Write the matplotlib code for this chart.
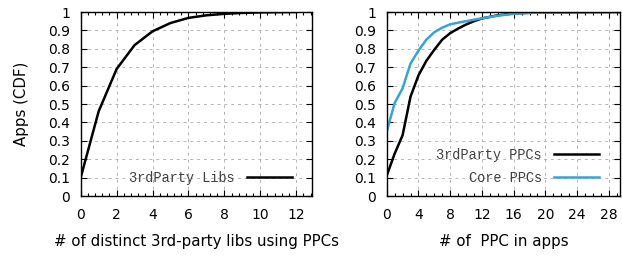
import matplotlib
matplotlib.use("Agg")
import matplotlib.pyplot as plt
from matplotlib.ticker import MultipleLocator, FixedLocator

# Data
libs_x = [0, 1, 2, 3, 4, 5, 6, 7, 8, 9, 10, 11, 12]
libs_cdf = [0.10, 0.46, 0.69, 0.82, 0.895, 0.94, 0.968, 0.982, 0.99, 0.995, 0.998, 0.999, 1.0]

ppc_x = [0, 1, 2, 3, 4, 5, 6, 7, 8, 9, 10, 11, 12, 14, 16, 18, 20, 24, 30]
third_ppc = [0.11, 0.23, 0.33, 0.54, 0.655, 0.735, 0.795, 0.85, 0.885, 0.91, 0.932, 0.95, 0.965, 0.982, 0.992, 0.996, 0.998, 0.999, 1.0]
core_ppc = [0.35, 0.505, 0.585, 0.72, 0.79, 0.85, 0.89, 0.915, 0.933, 0.942, 0.95, 0.958, 0.966, 0.98, 0.99, 0.995, 0.997, 0.999, 1.0]

y_ticks = [0, 0.1, 0.2, 0.3, 0.4, 0.5, 0.6, 0.7, 0.8, 0.9, 1]
y_labels = ["0", "0.1", "0.2", "0.3", "0.4", "0.5", "0.6", "0.7", "0.8", "0.9", "1"]

plt.rcParams['font.family'] = ['DejaVu Sans']
FS = 10
BLUE = '#3aa3d6'

fig = plt.figure(figsize=(6.22, 2.56), dpi=100)
W, H = 622, 256
def add_ax(l, r, t, b):
    return fig.add_axes([l / W, 1 - b / H, (r - l) / W, (b - t) / H])

ax1 = add_ax(80.7, 312.3, 12, 196)
ax2 = add_ax(386.7, 620, 12, 196)

def style(ax, xmax, major, minor):
    ax.set_ylim(0, 1)
    ax.set_xlim(0, xmax)
    ax.xaxis.set_major_locator(MultipleLocator(major))
    ax.xaxis.set_minor_locator(MultipleLocator(minor))
    ax.yaxis.set_major_locator(FixedLocator(y_ticks))
    ax.set_yticklabels(y_labels)
    ax.tick_params(which='both', direction='in', top=True, right=True, labelsize=FS, width=0.8)
    ax.tick_params(which='major', length=4)
    ax.tick_params(axis='y', which='major', pad=7.5)
    ax.tick_params(axis='x', which='major', pad=8.5)
    ax.tick_params(which='minor', length=2)
    ax.grid(True, which='major', color='#b4b4b4', linestyle=(0, (3, 4)), linewidth=0.7)
    ax.set_axisbelow(True)
    for s in ax.spines.values():
        s.set_linewidth(1.0)

style(ax1, 12.9, 2, 0.4)
style(ax2, 29.4, 4, 1)

ax1.plot(libs_x, libs_cdf, color='black', lw=1.8, label='3rdParty Libs')
ax2.plot(ppc_x, third_ppc, color='black', lw=1.8, label='3rdParty PPCs')
ax2.plot(ppc_x, core_ppc, color=BLUE, lw=1.8, label='Core PPCs')

ax1.set_ylabel('Apps (CDF)', fontsize=FS + 0.8, labelpad=14)
ax1.set_xlabel('# of distinct 3rd-party libs using PPCs', fontsize=FS + 0.8, labelpad=9)
ax2.set_xlabel('# of  PPC in apps', fontsize=FS + 0.8, labelpad=9)

legprops = dict(family='Liberation Mono', size=9.8)
for ax, anchor in ((ax1, (0.912, 0.098)), (ax2, (0.91, 0.16))):
    leg = ax.legend(loc='center right', bbox_to_anchor=anchor, frameon=False,
                    markerfirst=False, prop=legprops, handlelength=3.3,
                    handletextpad=0.9, labelspacing=0.65, borderpad=0,
                    borderaxespad=0)
    for t in leg.get_texts():
        t.set_color('#404040')
        t.set_ha('right')

fig.savefig('out.png', dpi=100)
